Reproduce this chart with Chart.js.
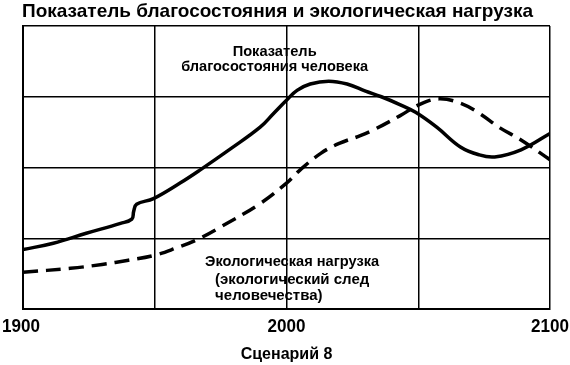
<!DOCTYPE html>
<html><head><meta charset="utf-8">
<script src="https://cdn.jsdelivr.net/npm/chart.js@4/dist/chart.umd.min.js"></script>
<style>html,body{margin:0;padding:0;background:#fff}#wrap{width:570px;height:365px}</style>
</head><body><div id="wrap"><canvas id="c" width="570" height="365"></canvas></div>
<script>
const title = 'Показатель благосостояния и экологическая нагрузка';
const xTitle = 'Сценарий 8';
const tickYears = [1900, 2000, 2100];
const tickLabels = ['1900', '2000', '2100'];
const welfareLabel = ['Показатель', 'благосостояния человека'];
const ecoLabel = ['Экологическая нагрузка', '(экологический след', 'человечества)'];

const welfareYears = [1900, 1911.5, 1924, 1937, 1941.3, 1942, 1943.1, 1949.5, 1959.6, 1967, 1979, 1990, 1995, 2000, 2004, 2009, 2016, 2023, 2030, 2036, 2043, 2049, 2057, 2066, 2073, 2079, 2089, 2100];
const welfare      = [0.84, 0.93,   1.07, 1.21, 1.27,   1.38, 1.48,   1.56,   1.78,   1.96, 2.27, 2.57, 2.76, 2.95, 3.09, 3.18, 3.22, 3.18, 3.08, 3.00, 2.89, 2.78, 2.57, 2.29, 2.18, 2.15, 2.25, 2.48];
const ecoYears = [1900, 1918, 1930, 1940, 1950, 1958, 1966, 1975, 1990, 2000, 2005, 2013, 2020, 2028, 2034, 2043, 2051, 2058, 2066, 2073, 2081, 2089, 2100];
const eco      = [0.52, 0.575, 0.63, 0.69, 0.76, 0.86, 0.98, 1.16, 1.49, 1.78, 1.96, 2.20, 2.34, 2.45, 2.55, 2.73, 2.90, 2.97, 2.91, 2.77, 2.56, 2.39, 2.11];

const toPts = (xs, ys) => xs.map((x, i) => ({x, y: ys[i]}));
const FONT = '"Liberation Sans", Arial, sans-serif';

const textPlugin = {
  id: 'texts',
  afterDraw(chart) {
    const ctx = chart.ctx;
    const xs = chart.scales.x, ys = chart.scales.y;
    ctx.save();
    ctx.fillStyle = '#000';
    ctx.textBaseline = 'middle';
    ctx.font = 'bold 19px ' + FONT;
    ctx.textAlign = 'left';
    ctx.fillText(title, 22, 12, 520);
    ctx.font = 'bold 18px ' + FONT;
    ctx.textAlign = 'center';
    tickYears.forEach((yr, i) => {
      let px = xs.getPixelForValue(yr);
      if (i === 0) px -= 2;
      ctx.fillText(tickLabels[i], px, 327, 38);
    });
    ctx.font = 'bold 15px ' + FONT;
    const cx = xs.getPixelForValue(1995.5);
    ctx.fillText(welfareLabel[0], cx, ys.getPixelForValue(3.63), 84);
    ctx.fillText(welfareLabel[1], cx, ys.getPixelForValue(3.42), 187);
    ctx.textAlign = 'left';
    ctx.fillText(ecoLabel[0], xs.getPixelForValue(1969.1), ys.getPixelForValue(0.67), 174);
    ctx.fillText(ecoLabel[1], xs.getPixelForValue(1972.9), ys.getPixelForValue(0.41), 160);
    ctx.fillText(ecoLabel[2], xs.getPixelForValue(1972.9), ys.getPixelForValue(0.18), 108);
    ctx.restore();
  }
};

new Chart(document.getElementById('c'), {
  type: 'line',
  data: {
    datasets: [
      {data: toPts(welfareYears, welfare), borderColor: '#000', borderWidth: 3.5, pointRadius: 0, tension: 0.4, fill: false},
      {data: toPts(ecoYears, eco), borderColor: '#000', borderWidth: 3.5, borderDash: [15, 8], pointRadius: 0, tension: 0.4, fill: false}
    ]
  },
  options: {
    responsive: false,
    animation: false,
    events: [],
    layout: {padding: {top: 26, right: 20, left: 0, bottom: 0}},
    plugins: {legend: {display: false}, tooltip: {enabled: false}},
    scales: {
      x: {
        type: 'linear', min: 1900, max: 2100,
        afterFit(s) { s.height = 56; },
        grid: {color: '#000', lineWidth: 1.5, drawTicks: false},
        border: {color: '#000', width: 2},
        ticks: {stepSize: 50, display: false},
        title: {display: true, text: xTitle, color: '#000', padding: {top: 0, bottom: 1},
          font: {family: FONT, size: 16, weight: 'bold'}}
      },
      y: {
        min: 0, max: 4,
        afterFit(s) { s.width = 23; },
        grid: {color: '#000', lineWidth: 1.5, drawTicks: false},
        border: {color: '#000', width: 2},
        ticks: {stepSize: 1, display: false}
      }
    }
  },
  plugins: [textPlugin]
});
</script>
</body></html>
